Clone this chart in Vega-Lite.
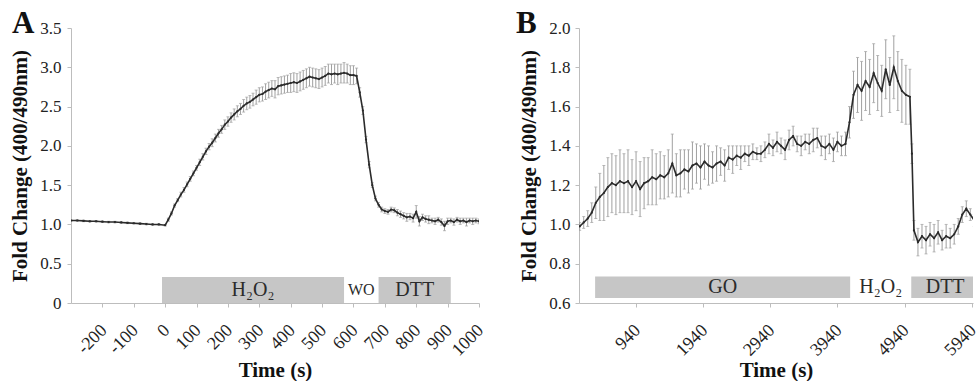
{
  "$schema": "https://vega.github.io/schema/vega-lite/v6.json",
  "padding": {"left": 9, "top": 8, "right": 0, "bottom": 0},
  "spacing": 29,
  "config": {
    "font": "Liberation Serif",
    "view": {"stroke": null},
    "axis": {
      "grid": false,
      "domainColor": "#bdbdbd",
      "tickColor": "#bdbdbd",
      "tickSize": 4,
      "labelFont": "Liberation Serif",
      "labelColor": "#222222",
      "labelFontSize": 17,
      "titleFont": "Liberation Serif",
      "titleFontWeight": "bold",
      "titleColor": "#111111",
      "titleFontSize": 21,
      "labelOverlap": false,
      "labelBound": false,
      "tickCount": 30
    },
    "title": {"font": "Liberation Serif", "fontSize": 31, "fontWeight": "bold", "color": "#111111", "anchor": "start", "frame": "group", "baseline": "alphabetic", "offset": -4, "dy": 17}
  },
  "datasets": {
    "a": [
      {"t": -300, "v": 1.05, "e": 0.01}, {"t": -280, "v": 1.05, "e": 0.01}, {"t": -260, "v": 1.045, "e": 0.01}, {"t": -240, "v": 1.04, "e": 0.01},
      {"t": -220, "v": 1.04, "e": 0.01}, {"t": -200, "v": 1.035, "e": 0.01}, {"t": -180, "v": 1.03, "e": 0.01}, {"t": -160, "v": 1.03, "e": 0.01},
      {"t": -140, "v": 1.025, "e": 0.01}, {"t": -120, "v": 1.02, "e": 0.01}, {"t": -100, "v": 1.015, "e": 0.01}, {"t": -80, "v": 1.01, "e": 0.01},
      {"t": -60, "v": 1.005, "e": 0.01}, {"t": -40, "v": 1.0, "e": 0.01}, {"t": -20, "v": 1.0, "e": 0.01},
      {"t": 0, "v": 0.99, "e": 0.01}, {"t": 10, "v": 1.06, "e": 0.02}, {"t": 20, "v": 1.14, "e": 0.02}, {"t": 30, "v": 1.24, "e": 0.02},
      {"t": 40, "v": 1.31, "e": 0.02}, {"t": 50, "v": 1.38, "e": 0.03}, {"t": 60, "v": 1.44, "e": 0.03}, {"t": 70, "v": 1.51, "e": 0.03},
      {"t": 80, "v": 1.58, "e": 0.03}, {"t": 90, "v": 1.65, "e": 0.03}, {"t": 100, "v": 1.72, "e": 0.03}, {"t": 110, "v": 1.79, "e": 0.04},
      {"t": 120, "v": 1.86, "e": 0.04}, {"t": 130, "v": 1.93, "e": 0.04}, {"t": 140, "v": 1.99, "e": 0.04}, {"t": 150, "v": 2.04, "e": 0.05},
      {"t": 160, "v": 2.1, "e": 0.05}, {"t": 170, "v": 2.16, "e": 0.05}, {"t": 180, "v": 2.21, "e": 0.05}, {"t": 190, "v": 2.27, "e": 0.06},
      {"t": 200, "v": 2.31, "e": 0.06}, {"t": 210, "v": 2.36, "e": 0.06}, {"t": 220, "v": 2.4, "e": 0.07}, {"t": 230, "v": 2.44, "e": 0.07},
      {"t": 240, "v": 2.47, "e": 0.07}, {"t": 250, "v": 2.51, "e": 0.08}, {"t": 260, "v": 2.54, "e": 0.08}, {"t": 270, "v": 2.56, "e": 0.08},
      {"t": 280, "v": 2.59, "e": 0.08}, {"t": 290, "v": 2.62, "e": 0.09}, {"t": 300, "v": 2.65, "e": 0.09}, {"t": 310, "v": 2.66, "e": 0.09},
      {"t": 320, "v": 2.69, "e": 0.1}, {"t": 330, "v": 2.71, "e": 0.1}, {"t": 340, "v": 2.73, "e": 0.1}, {"t": 350, "v": 2.72, "e": 0.11},
      {"t": 360, "v": 2.76, "e": 0.11}, {"t": 370, "v": 2.77, "e": 0.11}, {"t": 380, "v": 2.78, "e": 0.11}, {"t": 390, "v": 2.79, "e": 0.11},
      {"t": 400, "v": 2.8, "e": 0.12}, {"t": 410, "v": 2.81, "e": 0.12}, {"t": 420, "v": 2.8, "e": 0.12}, {"t": 430, "v": 2.82, "e": 0.12},
      {"t": 440, "v": 2.84, "e": 0.12}, {"t": 450, "v": 2.86, "e": 0.12}, {"t": 460, "v": 2.88, "e": 0.12}, {"t": 470, "v": 2.87, "e": 0.12},
      {"t": 480, "v": 2.86, "e": 0.12}, {"t": 490, "v": 2.85, "e": 0.12}, {"t": 500, "v": 2.87, "e": 0.12}, {"t": 510, "v": 2.89, "e": 0.12},
      {"t": 520, "v": 2.92, "e": 0.12}, {"t": 530, "v": 2.91, "e": 0.13}, {"t": 540, "v": 2.92, "e": 0.12}, {"t": 550, "v": 2.91, "e": 0.13},
      {"t": 560, "v": 2.92, "e": 0.12}, {"t": 570, "v": 2.93, "e": 0.13}, {"t": 580, "v": 2.92, "e": 0.12}, {"t": 590, "v": 2.9, "e": 0.12},
      {"t": 600, "v": 2.9, "e": 0.12}, {"t": 610, "v": 2.89, "e": 0.1}, {"t": 620, "v": 2.68, "e": 0.06}, {"t": 630, "v": 2.45, "e": 0.05},
      {"t": 640, "v": 2.08, "e": 0.04}, {"t": 650, "v": 1.76, "e": 0.04}, {"t": 660, "v": 1.5, "e": 0.03}, {"t": 670, "v": 1.33, "e": 0.03},
      {"t": 680, "v": 1.25, "e": 0.03}, {"t": 690, "v": 1.19, "e": 0.03}, {"t": 700, "v": 1.17, "e": 0.03}, {"t": 710, "v": 1.16, "e": 0.03},
      {"t": 720, "v": 1.19, "e": 0.03}, {"t": 730, "v": 1.18, "e": 0.03}, {"t": 740, "v": 1.15, "e": 0.04}, {"t": 750, "v": 1.13, "e": 0.04},
      {"t": 760, "v": 1.11, "e": 0.04}, {"t": 770, "v": 1.09, "e": 0.05}, {"t": 780, "v": 1.1, "e": 0.04}, {"t": 790, "v": 1.08, "e": 0.05},
      {"t": 800, "v": 1.16, "e": 0.08}, {"t": 810, "v": 1.04, "e": 0.06}, {"t": 820, "v": 1.09, "e": 0.04}, {"t": 830, "v": 1.07, "e": 0.04},
      {"t": 840, "v": 1.06, "e": 0.05}, {"t": 850, "v": 1.05, "e": 0.03}, {"t": 860, "v": 1.04, "e": 0.04}, {"t": 870, "v": 1.06, "e": 0.03},
      {"t": 880, "v": 1.03, "e": 0.04}, {"t": 890, "v": 0.98, "e": 0.06}, {"t": 900, "v": 1.04, "e": 0.04}, {"t": 910, "v": 1.05, "e": 0.03},
      {"t": 920, "v": 1.03, "e": 0.04}, {"t": 930, "v": 1.06, "e": 0.03}, {"t": 940, "v": 1.04, "e": 0.04}, {"t": 950, "v": 1.05, "e": 0.03},
      {"t": 960, "v": 1.03, "e": 0.05}, {"t": 970, "v": 1.05, "e": 0.03}, {"t": 980, "v": 1.04, "e": 0.04}, {"t": 990, "v": 1.05, "e": 0.03},
      {"t": 1000, "v": 1.04, "e": 0.03}
    ],
    "b": [
      {"t": 100, "v": 0.99, "e": 0.02}, {"t": 160, "v": 1.01, "e": 0.03}, {"t": 220, "v": 1.03, "e": 0.04}, {"t": 280, "v": 1.06, "e": 0.05},
      {"t": 340, "v": 1.11, "e": 0.08}, {"t": 400, "v": 1.14, "e": 0.12}, {"t": 460, "v": 1.16, "e": 0.14}, {"t": 520, "v": 1.19, "e": 0.15},
      {"t": 580, "v": 1.21, "e": 0.15}, {"t": 640, "v": 1.2, "e": 0.15}, {"t": 700, "v": 1.22, "e": 0.16}, {"t": 760, "v": 1.21, "e": 0.15},
      {"t": 820, "v": 1.22, "e": 0.16}, {"t": 880, "v": 1.19, "e": 0.14}, {"t": 940, "v": 1.22, "e": 0.15}, {"t": 1000, "v": 1.18, "e": 0.14},
      {"t": 1060, "v": 1.21, "e": 0.13}, {"t": 1120, "v": 1.22, "e": 0.12}, {"t": 1180, "v": 1.24, "e": 0.14}, {"t": 1240, "v": 1.23, "e": 0.13},
      {"t": 1300, "v": 1.25, "e": 0.12}, {"t": 1360, "v": 1.24, "e": 0.11}, {"t": 1420, "v": 1.26, "e": 0.12}, {"t": 1480, "v": 1.31, "e": 0.15},
      {"t": 1540, "v": 1.25, "e": 0.11}, {"t": 1600, "v": 1.26, "e": 0.12}, {"t": 1660, "v": 1.28, "e": 0.1}, {"t": 1720, "v": 1.27, "e": 0.11},
      {"t": 1780, "v": 1.3, "e": 0.12}, {"t": 1840, "v": 1.31, "e": 0.1}, {"t": 1900, "v": 1.29, "e": 0.11}, {"t": 1960, "v": 1.32, "e": 0.09},
      {"t": 2020, "v": 1.3, "e": 0.1}, {"t": 2080, "v": 1.29, "e": 0.08}, {"t": 2140, "v": 1.31, "e": 0.09}, {"t": 2200, "v": 1.32, "e": 0.07},
      {"t": 2260, "v": 1.3, "e": 0.08}, {"t": 2320, "v": 1.34, "e": 0.06}, {"t": 2380, "v": 1.33, "e": 0.07}, {"t": 2440, "v": 1.35, "e": 0.05},
      {"t": 2500, "v": 1.34, "e": 0.06}, {"t": 2560, "v": 1.36, "e": 0.04}, {"t": 2620, "v": 1.35, "e": 0.05}, {"t": 2680, "v": 1.37, "e": 0.04},
      {"t": 2740, "v": 1.36, "e": 0.03}, {"t": 2800, "v": 1.36, "e": 0.04}, {"t": 2860, "v": 1.38, "e": 0.04}, {"t": 2920, "v": 1.41, "e": 0.05},
      {"t": 2980, "v": 1.39, "e": 0.04}, {"t": 3040, "v": 1.42, "e": 0.05}, {"t": 3100, "v": 1.4, "e": 0.04}, {"t": 3160, "v": 1.38, "e": 0.05},
      {"t": 3220, "v": 1.43, "e": 0.05}, {"t": 3280, "v": 1.45, "e": 0.05}, {"t": 3340, "v": 1.41, "e": 0.04}, {"t": 3400, "v": 1.4, "e": 0.05},
      {"t": 3460, "v": 1.42, "e": 0.04}, {"t": 3520, "v": 1.41, "e": 0.05}, {"t": 3580, "v": 1.43, "e": 0.06}, {"t": 3640, "v": 1.44, "e": 0.05},
      {"t": 3700, "v": 1.4, "e": 0.05}, {"t": 3760, "v": 1.39, "e": 0.06}, {"t": 3820, "v": 1.41, "e": 0.05}, {"t": 3880, "v": 1.38, "e": 0.06},
      {"t": 3940, "v": 1.42, "e": 0.05}, {"t": 4000, "v": 1.4, "e": 0.05}, {"t": 4060, "v": 1.41, "e": 0.06}, {"t": 4120, "v": 1.52, "e": 0.08},
      {"t": 4180, "v": 1.66, "e": 0.12}, {"t": 4240, "v": 1.71, "e": 0.14}, {"t": 4300, "v": 1.68, "e": 0.15}, {"t": 4360, "v": 1.73, "e": 0.15},
      {"t": 4420, "v": 1.7, "e": 0.14}, {"t": 4480, "v": 1.77, "e": 0.15}, {"t": 4540, "v": 1.72, "e": 0.14}, {"t": 4600, "v": 1.68, "e": 0.13},
      {"t": 4660, "v": 1.79, "e": 0.15}, {"t": 4720, "v": 1.71, "e": 0.14}, {"t": 4780, "v": 1.8, "e": 0.16}, {"t": 4840, "v": 1.73, "e": 0.15},
      {"t": 4900, "v": 1.68, "e": 0.16}, {"t": 4960, "v": 1.66, "e": 0.15}, {"t": 5020, "v": 1.65, "e": 0.14}, {"t": 5050, "v": 1.36, "e": 0.05},
      {"t": 5080, "v": 0.97, "e": 0.05}, {"t": 5140, "v": 0.91, "e": 0.07}, {"t": 5200, "v": 0.94, "e": 0.06}, {"t": 5260, "v": 0.92, "e": 0.07},
      {"t": 5320, "v": 0.95, "e": 0.06}, {"t": 5380, "v": 0.93, "e": 0.07}, {"t": 5440, "v": 0.96, "e": 0.06}, {"t": 5500, "v": 0.92, "e": 0.05},
      {"t": 5560, "v": 0.94, "e": 0.06}, {"t": 5620, "v": 0.93, "e": 0.05}, {"t": 5680, "v": 0.95, "e": 0.05}, {"t": 5740, "v": 0.99, "e": 0.04},
      {"t": 5800, "v": 1.05, "e": 0.04}, {"t": 5860, "v": 1.08, "e": 0.04}, {"t": 5920, "v": 1.05, "e": 0.03}, {"t": 5980, "v": 1.02, "e": 0.03}
    ],
    "pa": [
      {"p": "H₂O₂", "s": -10, "f": 570, "bar": true},
      {"p": "WO", "s": 570, "f": 680, "bar": false},
      {"p": "DTT", "s": 680, "f": 910, "bar": true}
    ],
    "pb": [
      {"p": "GO", "s": 330, "f": 4130, "bar": true},
      {"p": "H₂O₂", "s": 4130, "f": 5040, "bar": false},
      {"p": "DTT", "s": 5040, "f": 6050, "bar": true}
    ]
  },
  "hconcat": [
    {
      "width": 408,
      "height": 275,
      "title": {"text": "A", "dx": -59},
      "layer": [
        {
          "data": {"name": "pa"},
          "transform": [{"filter": "datum.bar"}],
          "mark": {"type": "rect", "color": "#c6c6c6", "clip": true},
          "encoding": {
            "x": {"field": "s", "type": "quantitative", "scale": {"domain": [-300, 1000], "nice": false}},
            "x2": {"field": "f"},
            "y": {"datum": 0, "type": "quantitative", "scale": {"domain": [0, 3.5], "nice": false}},
            "y2": {"datum": 0.33}
          }
        },
        {
          "data": {"name": "pa"},
          "transform": [{"calculate": "(datum.s + datum.f) / 2", "as": "mid"}],
          "mark": {"type": "text", "font": "Liberation Serif", "color": "#2b2b2b", "baseline": "middle", "align": "center"},
          "encoding": {
            "x": {"field": "mid", "type": "quantitative"},
            "y": {"datum": 0.165, "type": "quantitative"},
            "text": {"field": "p"},
            "size": {"condition": {"test": "datum.p === 'WO'", "value": 16}, "value": 20}
          }
        },
        {
          "data": {"name": "a"},
          "mark": {"type": "errorbar", "ticks": {"size": 3, "color": "#a0a0a0"}, "rule": {"color": "#a0a0a0", "strokeWidth": 1}, "clip": true},
          "encoding": {
            "x": {"field": "t", "type": "quantitative",
              "axis": {"title": "Time (s)", "values": [-200, -100, 0, 100, 200, 300, 400, 500, 600, 700, 800, 900, 1000], "tickCount": 30, "labelExpr": "'' + datum.value", "labelAngle": -45, "labelFontSize": 18, "labelPadding": 14, "labelOffset": -5, "titlePadding": 0, "labelOverlap": false}},
            "y": {"field": "v", "type": "quantitative",
              "axis": {"title": "Fold Change (400/490nm)", "values": [0, 0.5, 1, 1.5, 2, 2.5, 3, 3.5], "tickCount": 30, "labelExpr": "datum.value === 0 ? '0' : format(datum.value, '.1f')", "labelPadding": 6, "titlePadding": 9, "labelOverlap": false}},
            "yError": {"field": "e"}
          }
        },
        {
          "data": {"name": "a"},
          "mark": {"type": "line", "color": "#2b2b2b", "strokeWidth": 1.6, "clip": true, "point": {"filled": true, "size": 5, "color": "#2b2b2b"}},
          "encoding": {
            "x": {"field": "t", "type": "quantitative",
              "axis": {"title": "Time (s)", "values": [-200, -100, 0, 100, 200, 300, 400, 500, 600, 700, 800, 900, 1000], "tickCount": 30, "labelExpr": "'' + datum.value", "labelAngle": -45, "labelFontSize": 18, "labelPadding": 14, "labelOffset": -5, "titlePadding": 0, "labelOverlap": false}},
            "y": {"field": "v", "type": "quantitative",
              "axis": {"title": "Fold Change (400/490nm)", "values": [0, 0.5, 1, 1.5, 2, 2.5, 3, 3.5], "tickCount": 30, "labelExpr": "datum.value === 0 ? '0' : format(datum.value, '.1f')", "labelPadding": 6, "titlePadding": 9, "labelOverlap": false}}
          }
        }
      ]
    },
    {
      "width": 394,
      "height": 275,
      "title": {"text": "B", "dx": -63},
      "layer": [
        {
          "data": {"name": "pb"},
          "transform": [{"filter": "datum.bar"}],
          "mark": {"type": "rect", "color": "#c6c6c6", "clip": true},
          "encoding": {
            "x": {"field": "s", "type": "quantitative", "scale": {"domain": [90, 5960], "nice": false}},
            "x2": {"field": "f"},
            "y": {"datum": 0.625, "type": "quantitative", "scale": {"domain": [0.6, 2.0], "nice": false}},
            "y2": {"datum": 0.735}
          }
        },
        {
          "data": {"name": "pb"},
          "transform": [{"calculate": "(datum.s + datum.f) / 2", "as": "mid"}],
          "mark": {"type": "text", "font": "Liberation Serif", "color": "#2b2b2b", "baseline": "middle", "align": "center", "size": 20},
          "encoding": {
            "x": {"field": "mid", "type": "quantitative"},
            "y": {"datum": 0.68, "type": "quantitative"},
            "text": {"field": "p"}
          }
        },
        {
          "data": {"name": "b"},
          "mark": {"type": "errorbar", "ticks": {"size": 3, "color": "#a0a0a0"}, "rule": {"color": "#a0a0a0", "strokeWidth": 1}, "clip": true},
          "encoding": {
            "x": {"field": "t", "type": "quantitative",
              "axis": {"title": "Time (s)", "values": [940, 1940, 2940, 3940, 4940, 5940], "tickCount": 30, "labelExpr": "'' + datum.value", "labelAngle": -45, "labelFontSize": 18, "labelPadding": 14, "labelOffset": -5, "titlePadding": 0, "labelOverlap": false}},
            "y": {"field": "v", "type": "quantitative",
              "axis": {"title": "Fold Change (400/490nm)", "values": [0.6, 0.8, 1.0, 1.2, 1.4, 1.6, 1.8, 2.0], "tickCount": 30, "format": ".1f", "labelPadding": 5, "titlePadding": 9, "labelOverlap": false}},
            "yError": {"field": "e"}
          }
        },
        {
          "data": {"name": "b"},
          "mark": {"type": "line", "color": "#2b2b2b", "strokeWidth": 1.6, "clip": true, "point": {"filled": true, "size": 5, "color": "#2b2b2b"}},
          "encoding": {
            "x": {"field": "t", "type": "quantitative",
              "axis": {"title": "Time (s)", "values": [940, 1940, 2940, 3940, 4940, 5940], "tickCount": 30, "labelExpr": "'' + datum.value", "labelAngle": -45, "labelFontSize": 18, "labelPadding": 14, "labelOffset": -5, "titlePadding": 0, "labelOverlap": false}},
            "y": {"field": "v", "type": "quantitative",
              "axis": {"title": "Fold Change (400/490nm)", "values": [0.6, 0.8, 1.0, 1.2, 1.4, 1.6, 1.8, 2.0], "tickCount": 30, "format": ".1f", "labelPadding": 5, "titlePadding": 9, "labelOverlap": false}}
          }
        }
      ]
    }
  ]
}
